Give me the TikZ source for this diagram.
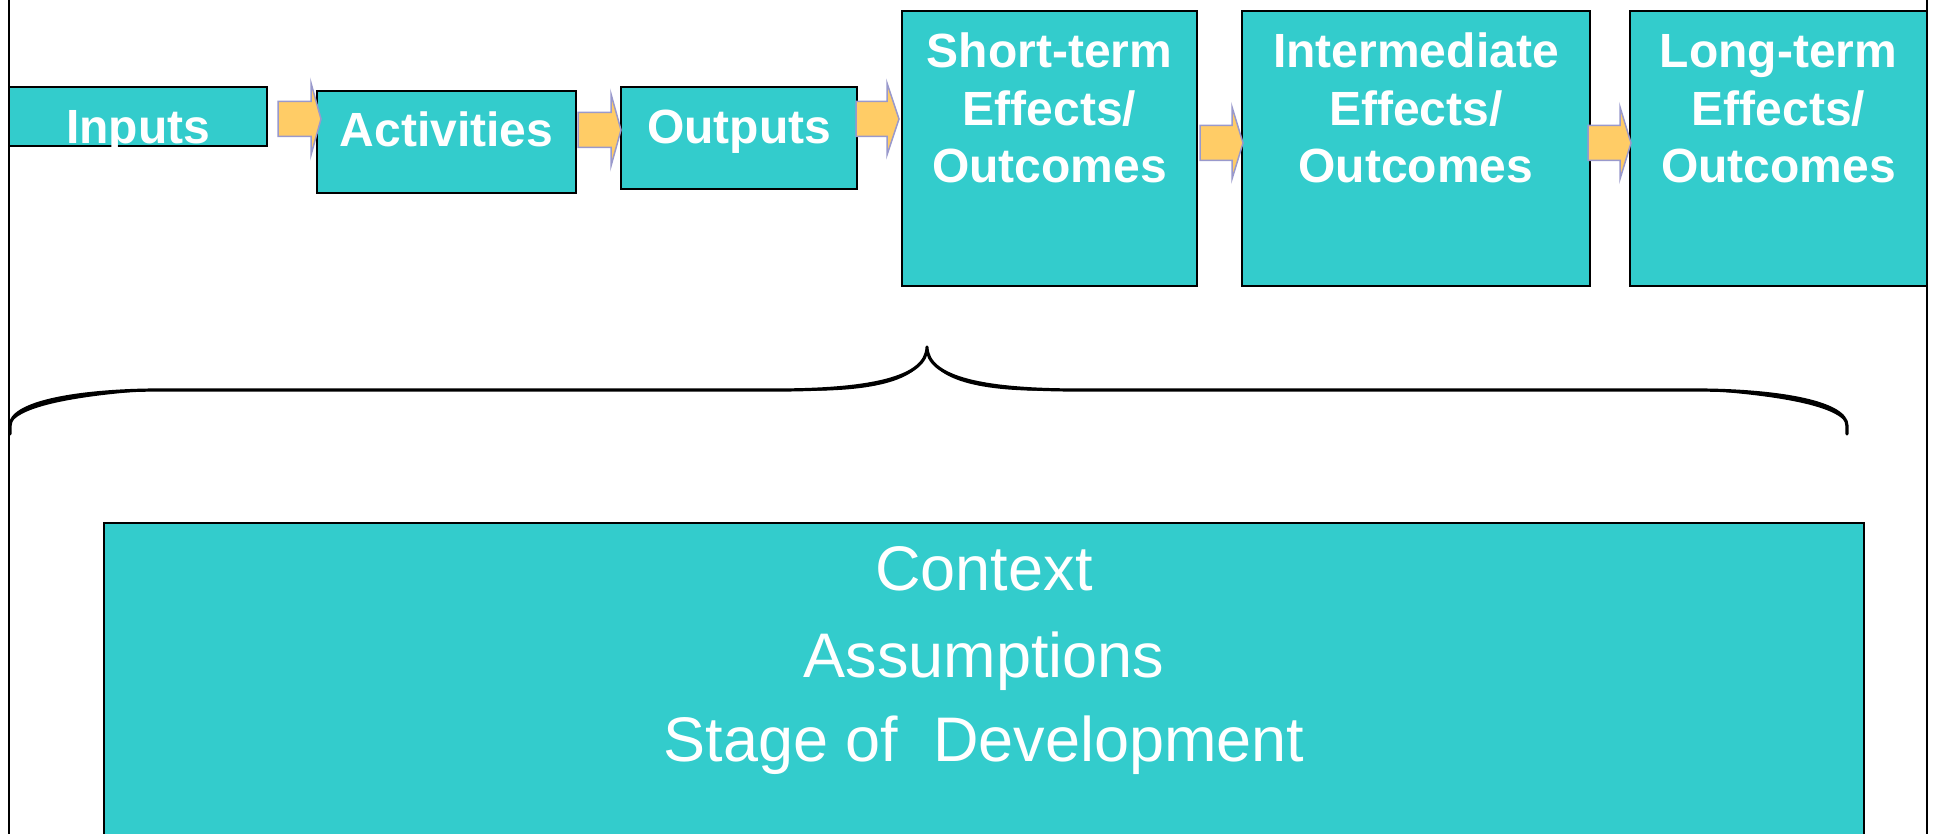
\documentclass[tikz,border=0pt]{standalone}
\usepackage{fontspec}
\setmainfont{Liberation Sans}
\definecolor{tealfill}{HTML}{33CCCC}
\definecolor{arrowfill}{HTML}{FFCC66}
\definecolor{arrowline}{HTML}{9999CC}
\newcommand\blockarr[4]{%
  \draw[blockarrow] (#1,#4-17.5) -- (#2,#4-17.5) -- (#2,#4-36) -- (#3,#4)
    -- (#2,#4+36) -- (#2,#4+17.5) -- (#1,#4+17.5) -- cycle;}
\begin{document}
\begin{tikzpicture}[x=1pt,y=-1pt,
  box/.style={draw=black,line width=2.5pt,fill=tealfill,inner sep=0pt,outer sep=0pt},
  hdr/.style={anchor=base,inner sep=0pt,text=white,font=\fontsize{48}{57}\selectfont\bfseries},
  ctx/.style={anchor=base,inner sep=0pt,text=white,font=\fontsize{63}{76}\selectfont},
  blockarrow/.style={draw=arrowline,fill=arrowfill,line width=1.5pt,line join=miter},
  frameline/.style={line width=2pt},
  bracepath/.style={line width=3.2pt,line cap=round,line join=round},
  bracefill/.style={fill=black}]
\useasboundingbox (0,0) rectangle (1933,834);
\fill[white] (0,0) rectangle (1933,834);

% boxes
\node[box,minimum width=258pt,minimum height=59pt] (inputs) at (138,116.5) {};
\node[box,minimum width=259pt,minimum height=102pt] (activities) at (446.5,142) {};
\node[box,minimum width=236pt,minimum height=102pt] (outputs) at (739,138) {};
\node[box,minimum width=295pt,minimum height=275pt] (short) at (1049.5,148.5) {};
\node[box,minimum width=348pt,minimum height=275pt] (inter) at (1416,148.5) {};
\node[box,minimum width=297pt,minimum height=275pt] (long) at (1778.5,148.5) {};
\node[box,minimum width=1760pt,minimum height=340pt] (context) at (984,693) {};

% frame lines
\coordinate (ftl) at (9,0);
\coordinate (fbl) at (9,834);
\coordinate (ftr) at (1927,0);
\coordinate (fbr) at (1927,834);
\draw[frameline] (ftl) -- (fbl);
\draw[frameline] (ftr) -- (fbr);

% block arrows
\blockarr{278}{311}{321}{119}
\blockarr{578}{611}{621}{130}
\blockarr{856}{887}{899}{119}
\blockarr{1200}{1232}{1243}{143}
\blockarr{1588}{1620}{1631}{143}

% brace
\coordinate (bl) at (10,434);
\coordinate (btip) at (927,347);
\coordinate (br) at (1847,434);
\draw[bracepath] (bl) -- (10,426) .. controls (10,400) and (90,390) .. (160,390)
  -- (777,390) .. controls (870,390) and (927,378) .. (btip)
  .. controls (927,378) and (984,390) .. (1077,390)
  -- (1695,390) .. controls (1767,390) and (1847,400) .. (1847,426) -- (br);
\fill[bracefill] (10,426) .. controls (10,400) and (90,390) .. (160,390)
  .. controls (95,394) and (15,404) .. (10,426) -- cycle;
\fill[bracefill] (777,390) .. controls (870,390) and (927,378) .. (btip)
  .. controls (925,383) and (866,394) .. (777,390) -- cycle;
\fill[bracefill] (btip) .. controls (927,378) and (984,390) .. (1077,390)
  .. controls (988,394) and (929,383) .. (btip) -- cycle;
\fill[bracefill] (1695,390) .. controls (1767,390) and (1847,400) .. (1847,426)
  .. controls (1842,404) and (1762,394) .. (1695,390) -- cycle;

% header texts
\node[hdr] (tin) at (138,144) {Inputs};
\node[hdr] (tac) at (446.5,147) {Activities};
\node[hdr] (tou) at (739,144) {Outputs};
\node[hdr] (ts1) at (1049.5,68) {Short-term};
\node[hdr] (ts2) at (1049.5,126) {Effects/};
\node[hdr] (ts3) at (1049.5,183) {Outcomes};
\node[hdr] (ti1) at (1416,68) {Intermediate};
\node[hdr] (ti2) at (1416,126) {Effects/};
\node[hdr] (ti3) at (1416,183) {Outcomes};
\node[hdr] (tl1) at (1778.5,68) {Long-term};
\node[hdr] (tl2) at (1778.5,126) {Effects/};
\node[hdr] (tl3) at (1778.5,183) {Outcomes};

% context texts
\node[ctx] (c1) at (984,590) {Context};
\node[ctx] (c2) at (984,677) {Assumptions};
\node[ctx] (c3) at (984,761) {Stage of\ \ Development};
\end{tikzpicture}
\end{document}
